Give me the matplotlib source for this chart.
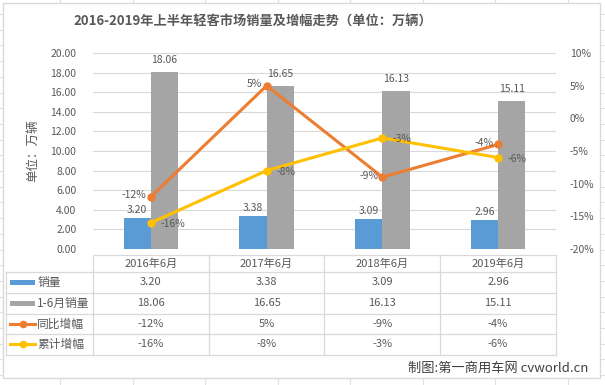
import numpy as np
import matplotlib
matplotlib.use("Agg")
import matplotlib.pyplot as plt
from matplotlib.patches import Rectangle
from matplotlib.lines import Line2D
from matplotlib.ticker import FuncFormatter

plt.rcParams['font.family'] = ['Noto Sans CJK SC', 'DejaVu Sans']

# data
categories = ["2016年6月", "2017年6月", "2018年6月", "2019年6月"]
sales = [3.20, 3.38, 3.09, 2.96]            # 销量 (万辆)
sales_h1 = [18.06, 16.65, 16.13, 15.11]     # 1-6月销量
yoy = [-12, 5, -9, -4]                      # 同比增幅 %
cum = [-16, -8, -3, -6]                     # 累计增幅 %
series_names = ["销量", "1-6月销量", "同比增幅", "累计增幅"]

BLUE = "#5B9BD5"
GRAY = "#A5A5A5"
ORANGE = "#ED7D31"
YELLOW = "#FFC000"
TXT = "#595959"
GRID = "#D9D9D9"

W, H = 605, 385
fig = plt.figure(figsize=(W / 100, H / 100), dpi=100)
fig.patch.set_facecolor("white")


def px(x0, y0, x1, y1):
    # pixel box (top-left origin) -> figure fraction rect
    return [x0 / W, 1 - y1 / H, (x1 - x0) / W, (y1 - y0) / H]


# faint spreadsheet cells behind the chart
for cx in np.arange(60, W, 72.5):
    fig.add_artist(Line2D([cx / W] * 2, [0, 1], transform=fig.transFigure,
                          color="#E2E2E2", lw=0.8, zorder=-3))
for cy in np.arange(14, H, 15.7):
    fig.add_artist(Line2D([0, 1], [1 - cy / H] * 2, transform=fig.transFigure,
                          color="#E2E2E2", lw=0.8, zorder=-3))

# chart area with border
fig.add_artist(Rectangle((2.5 / W, 1 - 378 / H), 597.5 / W, 375.5 / H,
                         transform=fig.transFigure, facecolor="white",
                         edgecolor=GRID, linewidth=1, zorder=-2))

fig.text(253 / W, 1 - 22 / H, "2016-2019年上半年轻客市场销量及增幅走势（单位：万辆）",
         ha="center", va="center", fontsize=9.5, fontweight="bold", color=TXT)

# main plot
ax = fig.add_axes(px(93, 53, 556, 249))
ax.patch.set_alpha(0)
x = np.arange(len(categories))
bw = 0.235
ax.bar(x - bw / 2, sales, bw, color=BLUE, zorder=2)
ax.bar(x + bw / 2, sales_h1, bw, color=GRAY, zorder=2)
ax.set_xlim(-0.5, 3.5)
ax.set_ylim(0, 20)
ax.set_yticks(np.arange(0, 21, 2))
ax.yaxis.set_major_formatter(FuncFormatter(lambda v, p: f"{v:.2f}"))
ax.set_xticks([])
ax.grid(axis="y", color=GRID, linewidth=0.8, zorder=0)
for s in ax.spines.values():
    s.set_visible(False)
ax.tick_params(axis="y", length=0, labelsize=7.5, labelcolor=TXT, pad=12)
ax.set_ylabel("单位：万辆", fontsize=9, color=TXT, labelpad=8)

for xi, v in zip(x, sales):
    ax.annotate(f"{v:.2f}", (xi - bw / 2, v), xytext=(0, 2), textcoords="offset points",
                ha="center", va="bottom", fontsize=7.5, color=TXT)
for xi, v in zip(x, sales_h1):
    ax.annotate(f"{v:.2f}", (xi + bw / 2, v), xytext=(0, 5), textcoords="offset points",
                ha="center", va="bottom", fontsize=7.5, color=TXT)

ax2 = ax.twinx()
ax2.set_xlim(-0.5, 3.5)
ax2.set_ylim(-20, 10)
ax2.set_yticks(np.arange(-20, 11, 5))
ax2.yaxis.set_major_formatter(FuncFormatter(lambda v, p: f"{v:.0f}%"))
ax2.tick_params(axis="y", length=0, labelsize=7.5, labelcolor=TXT, pad=10)
for s in ax2.spines.values():
    s.set_visible(False)
ax2.plot(x, yoy, color=ORANGE, linewidth=2.2, marker="o", markersize=5, zorder=3)
ax2.plot(x, cum, color=YELLOW, linewidth=2.2, marker="o", markersize=5, zorder=3)
for xi, v in zip(x, yoy):
    ax2.annotate(f"{v}%", (xi, v), xytext=(-3, 1), textcoords="offset points",
                 ha="right", va="center", fontsize=7.5, color=TXT)
for xi, v in zip(x, cum):
    ax2.annotate(f"{v}%", (xi, v), xytext=(7, -1), textcoords="offset points",
                 ha="left", va="center", fontsize=7.5, color=TXT)

# data table
tab = fig.add_axes(px(6, 255, 556, 355))
tab.set_xlim(-1.25, 3.5)
tab.set_ylim(355, 255)
tab.axis("off")
row_edges = [255, 272, 293, 314, 334, 355]
lc = GRID
tab.plot([-0.5, 3.5], [row_edges[0]] * 2, color=lc, lw=0.9, clip_on=False)
for r in row_edges[1:]:
    tab.plot([-1.25, 3.5], [r, r], color=lc, lw=0.9, clip_on=False)
tab.plot([-1.25, -1.25], [row_edges[1], row_edges[-1]], color=lc, lw=0.9, clip_on=False)
for c in np.arange(-0.5, 3.6, 1):
    tab.plot([c, c], [row_edges[0], row_edges[-1]], color=lc, lw=0.9, clip_on=False)

centers = [(row_edges[i] + row_edges[i + 1]) / 2 for i in range(len(row_edges) - 1)]
for xi, c in zip(x, categories):
    tab.text(xi, centers[0], c, ha="center", va="center", fontsize=8, color=TXT)
rows = [[f"{v:.2f}" for v in sales], [f"{v:.2f}" for v in sales_h1],
        [f"{v}%" for v in yoy], [f"{v}%" for v in cum]]
for ri, vals in enumerate(rows):
    yc = centers[ri + 1]
    for xi, s in zip(x, vals):
        tab.text(xi, yc, s, ha="center", va="center", fontsize=8, color=TXT)

# legend keys in first column
kx0, kx1 = -1.215, -1.0
for ri, (name, col) in enumerate(zip(series_names, [BLUE, GRAY, ORANGE, YELLOW])):
    yc = centers[ri + 1]
    if ri < 2:
        tab.add_patch(Rectangle((kx0, yc - 2.5), kx1 - kx0, 5, color=col, lw=0))
    else:
        tab.plot([kx0, kx1], [yc, yc], color=col, lw=2.2)
        tab.plot([(kx0 + kx1) / 2], [yc], "o", color=col, markersize=4.5)
    tab.text(kx1 + 0.02, yc, name, ha="left", va="center", fontsize=8.5, color=TXT)

fig.text(588 / W, 1 - 368 / H, "制图:第一商用车网 cvworld.cn", ha="right", va="center",
         fontsize=9.5, color="#404040")

fig.savefig("out.png", dpi=100, facecolor="white")
